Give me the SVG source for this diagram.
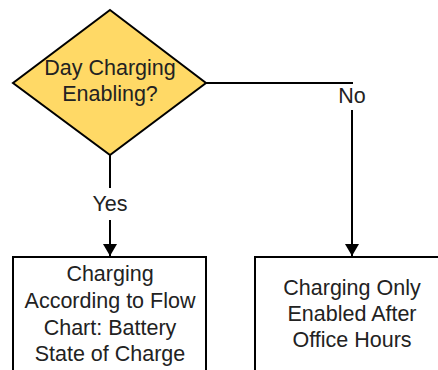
<svg xmlns="http://www.w3.org/2000/svg" width="438" height="370" viewBox="0 0 438 370">
  <style>
    .shape { stroke: #000; stroke-width: 2; }
    .box { fill: #fff; }
    .decision { fill: #ffd966; }
    .link { fill: none; stroke: #000; stroke-width: 2; }
    text { font-family: "Liberation Sans", Arial, sans-serif; font-size: 21.5px; fill: #222; text-anchor: middle; }
  </style>
  <defs>
    <marker id="arrow" viewBox="0 0 12 14" markerWidth="12" markerHeight="14" refX="12" refY="7" orient="auto" markerUnits="userSpaceOnUse">
      <path d="M0,0 L12,7 L0,14 Z" fill="#000"/>
    </marker>
  </defs>
  <rect width="438" height="370" fill="#fff"/>

  <g id="connectors">
    <!-- Yes branch -->
    <path class="link" d="M110,155 V188"/>
    <path class="link" d="M110,220 V256" marker-end="url(#arrow)"/>
    <!-- No branch -->
    <path class="link" d="M206,83 H353"/>
    <path class="link" d="M352,110 V256" marker-end="url(#arrow)"/>
    <text x="110" y="211">Yes</text>
    <text x="352" y="103">No</text>
  </g>

  <g id="decision">
    <polygon class="shape decision" points="110,10 206,83 110,155 13,83"/>
    <text x="110" y="75">Day Charging</text>
    <text x="110" y="101">Enabling?</text>
  </g>

  <g id="charge-by-soc">
    <rect class="shape box" x="13" y="257" width="193" height="125"/>
    <text x="110" y="281">Charging</text>
    <text x="110" y="308">According to Flow</text>
    <text x="110" y="335">Chart: Battery</text>
    <text x="110" y="361">State of Charge</text>
  </g>

  <g id="after-hours">
    <rect class="shape box" x="255" y="257" width="200" height="125"/>
    <text x="352" y="295">Charging Only</text>
    <text x="352" y="321">Enabled After</text>
    <text x="352" y="347">Office Hours</text>
  </g>
</svg>
